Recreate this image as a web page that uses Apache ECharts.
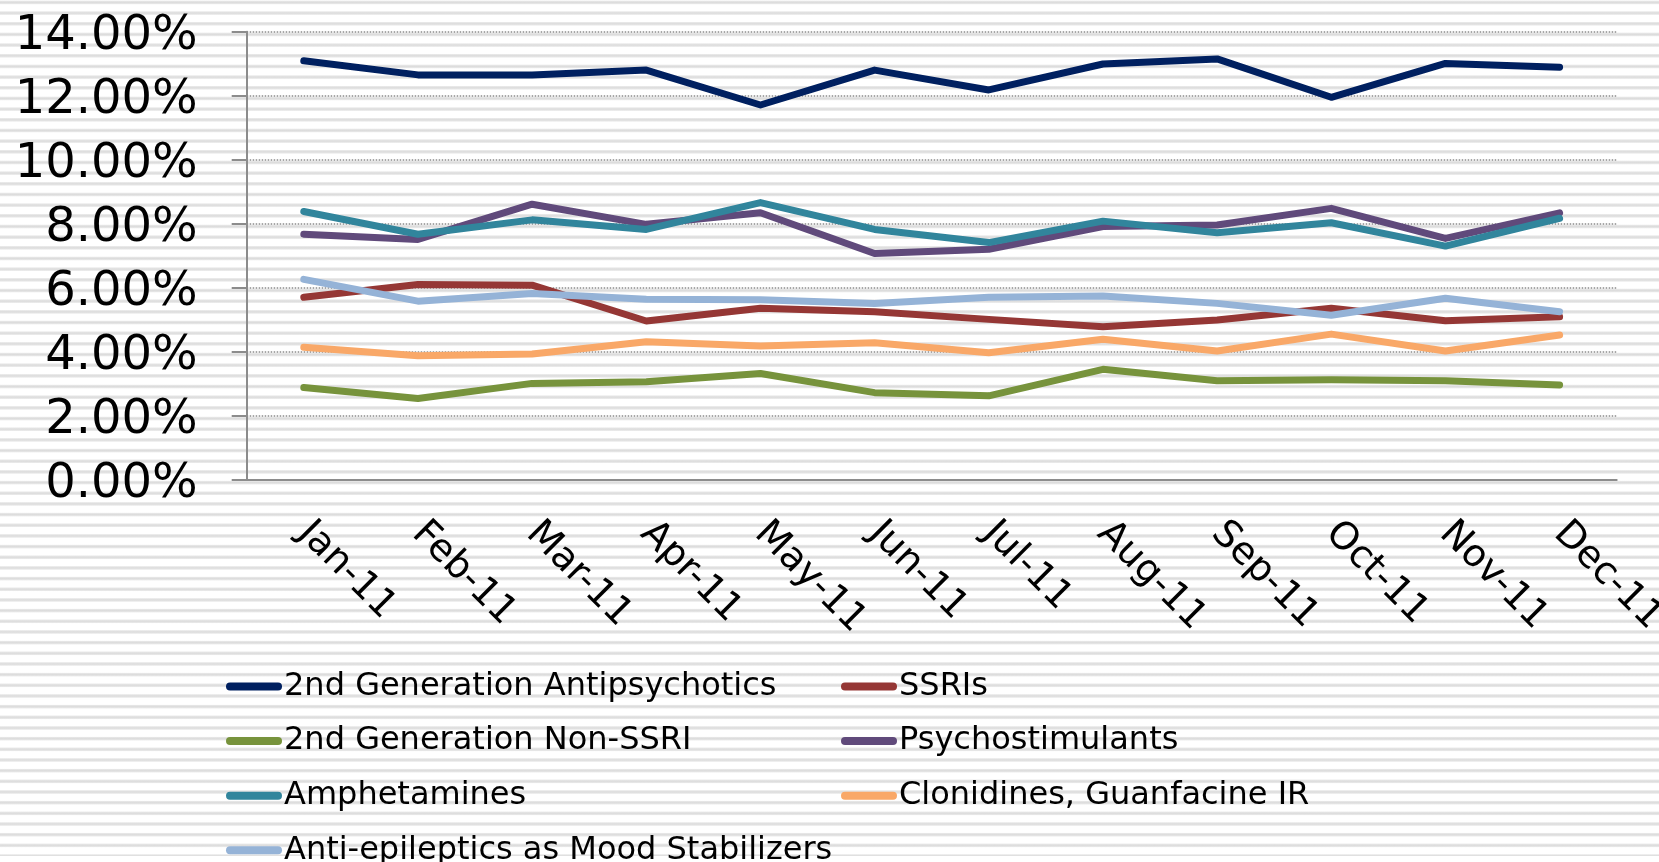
<!DOCTYPE html>
<html>
<head>
<meta charset="utf-8">
<script src="https://cdn.jsdelivr.net/npm/echarts@6/dist/echarts.min.js"></script>
<style>
  html, body { margin: 0; padding: 0; }
  body {
    width: 1659px; height: 862px; overflow: hidden;
    background-color: #fff;
    background-image: repeating-linear-gradient(to bottom,
      #ffffff 0px, #ffffff 6.2px, #e6e6e6 7.2px, #dcdcdc 8.4px, #e6e6e6 9.6px, #ffffff 10.67px);
    background-position: 0 -6px;
  }
  #chart { width: 1659px; height: 862px; }
</style>
</head>
<body>
<div id="chart"></div>
<script>
var months = ['Jan-11', 'Feb-11', 'Mar-11', 'Apr-11', 'May-11', 'Jun-11', 'Jul-11', 'Aug-11', 'Sep-11', 'Oct-11', 'Nov-11', 'Dec-11'];
var yTicks = [0, 2, 4, 6, 8, 10, 12, 14];

// values in percent
var antipsychotics = [13.09, 12.65, 12.65, 12.80, 11.71, 12.80, 12.18, 12.99, 13.15, 11.95, 13.01, 12.89];
var ssris = [5.70, 6.10, 6.08, 4.96, 5.36, 5.25, 5.01, 4.78, 4.99, 5.36, 4.97, 5.09];
var nonSsri = [2.88, 2.54, 3.01, 3.06, 3.32, 2.72, 2.62, 3.45, 3.09, 3.12, 3.09, 2.96];
var psychostim = [7.67, 7.51, 8.61, 7.98, 8.34, 7.07, 7.20, 7.91, 7.96, 8.48, 7.54, 8.34];
var amphetamines = [8.38, 7.67, 8.12, 7.82, 8.66, 7.82, 7.41, 8.08, 7.72, 8.03, 7.30, 8.17];
var clonidines = [4.14, 3.87, 3.93, 4.31, 4.18, 4.28, 3.97, 4.39, 4.02, 4.55, 4.02, 4.52];
var antiEpileptics = [6.26, 5.58, 5.82, 5.64, 5.62, 5.51, 5.70, 5.74, 5.51, 5.14, 5.67, 5.25];

var names = ['2nd Generation Antipsychotics', 'SSRIs', '2nd Generation Non-SSRI', 'Psychostimulants',
  'Amphetamines', 'Clonidines, Guanfacine IR', 'Anti-epileptics as Mood Stabilizers'];
var values = [antipsychotics, ssris, nonSsri, psychostim, amphetamines, clonidines, antiEpileptics];
var colors = ['#002060', '#953735', '#77933C', '#604A7B', '#31859C', '#F9A868', '#95B3D7'];

var font = 'DejaVu Sans';

var series = names.map(function (n, i) {
  return {
    name: n,
    type: 'line',
    data: values[i],
    symbol: 'none',
    lineStyle: { width: 7, color: colors[i], cap: 'round', join: 'round' },
    itemStyle: { color: colors[i] },
    z: 2 + i
  };
});

// one legend per entry, two columns, row-major order like the source
var capsule = 'path://M4,0 L52,0 A4,4 0 0 1 52,8 L4,8 A4,4 0 0 1 4,0 Z';
var legends = names.map(function (n, i) {
  var col = i % 2, row = Math.floor(i / 2);
  return {
    left: col ? 836 : 221,
    top: 665.5 + row * 54.6,
    icon: capsule,
    itemWidth: 56,
    itemHeight: 8,
    data: [n],
    textStyle: { fontFamily: font, fontSize: 32, lineHeight: 32, color: '#000', padding: [0, 0, 0, -3] }
  };
});

var chart = echarts.init(document.getElementById('chart'));
chart.setOption({
  animation: false,
  color: colors,
  grid: { left: 246.7, right: 42.3, top: 31.7, bottom: 382.3, outerBoundsMode: 'none', containLabel: false },
  legend: legends,
  xAxis: {
    type: 'category',
    data: months,
    boundaryGap: true,
    axisLine: { lineStyle: { color: '#8c8c8c', width: 2 } },
    axisTick: { length: 12, lineStyle: { color: '#8c8c8c', width: 2 } },
    axisLabel: { rotate: -45, margin: 48, interval: 0, fontFamily: font, fontSize: 38, color: '#000' }
  },
  yAxis: {
    type: 'value',
    min: yTicks[0],
    max: yTicks[yTicks.length - 1],
    interval: yTicks[1] - yTicks[0],
    axisLine: { show: true, lineStyle: { color: '#8c8c8c', width: 2 } },
    axisTick: { show: true, length: 15, lineStyle: { color: '#8c8c8c', width: 2 } },
    axisLabel: {
      margin: 49,
      formatter: function (v) { return '{t|' + v.toFixed(2) + '%}'; },
      rich: { t: { fontFamily: font, fontSize: 48, color: '#000', padding: [10, 0, 0, 0] } }
    },
    splitLine: { lineStyle: { color: '#8c8c8c', width: 1.5, type: [1.5, 1.5] } }
  },
  series: series
});
</script>
</body>
</html>
